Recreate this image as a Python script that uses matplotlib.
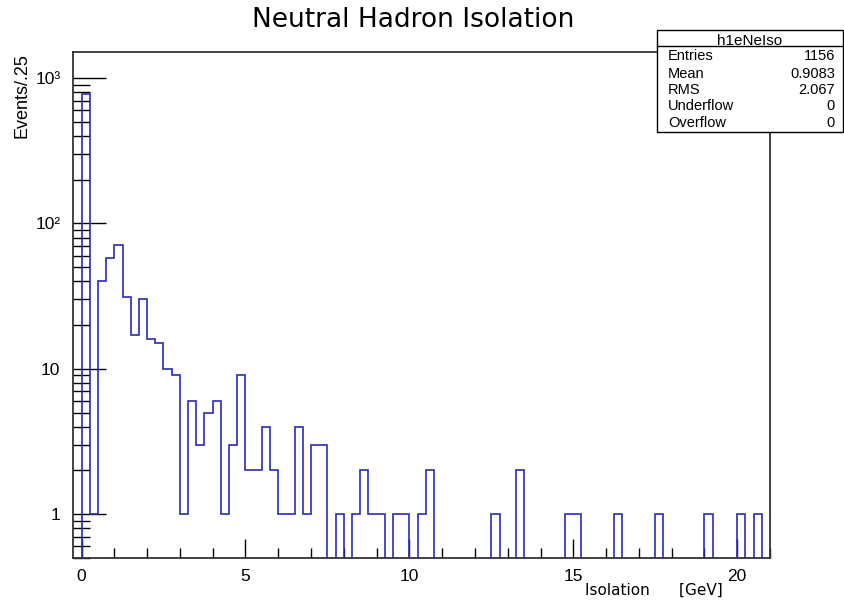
import numpy as np
import matplotlib
matplotlib.use('Agg')
from matplotlib import pyplot as plt
from matplotlib.patches import Rectangle
from matplotlib.lines import Line2D
from matplotlib.ticker import MultipleLocator, LogLocator, NullFormatter

# neutral hadron isolation, 0.25 GeV bins from 0 to 21 GeV
bin_width = 0.25
counts = [
    780, 1, 40, 58, 71, 31, 17, 30, 16, 15, 10, 9,       # 0.00 - 2.75
    1, 6, 3, 5, 6, 1, 3, 9, 2, 2, 4, 2,                  # 3.00 - 5.75
    1, 1, 4, 1, 3, 3, 0, 1, 0, 1, 2, 1,                  # 6.00 - 8.75
    1, 0, 1, 1, 0, 1, 2, 0, 0, 0, 0, 0,                  # 9.00 - 11.75
    0, 0, 1, 0, 0, 2, 0, 0, 0, 0, 0, 1,                  # 12.00 - 14.75
    1, 0, 0, 0, 0, 1, 0, 0, 0, 0, 1, 0,                  # 15.00 - 17.75
    0, 0, 0, 0, 1, 0, 0, 0, 1, 0, 1, 0,                  # 18.00 - 20.75
]
hist_name = 'h1eNeIso'
mean_text = '0.9083'
rms_text = '2.067'
underflow = 0
overflow = 0

counts = np.array(counts)
edges = np.arange(len(counts) + 1) * bin_width

W, H = 844, 604
fig = plt.figure(figsize=(W / 100, H / 100), dpi=100)
fig.patch.set_facecolor('white')

# frame in pixels: left 73, right 770, top 52, bottom 558
ax = fig.add_axes([73 / W, 1 - 558 / H, (770 - 73) / W, (558 - 52) / H])

# empty bins sit under the frame bottom, like ROOT draws them on a log axis
floor = 0.3
ax.stairs(np.maximum(counts, floor), edges, baseline=floor,
          color='#2b2bb8', lw=1.2, zorder=3)

ax.set_yscale('log')
ax.set_ylim(0.5, 1510)
ax.set_xlim(-0.26, 21.0)

for s in ['left', 'bottom', 'top', 'right']:
    ax.spines[s].set_color('#333333')
    ax.spines[s].set_linewidth(1.3)

ax.xaxis.set_major_locator(MultipleLocator(5))
ax.xaxis.set_minor_locator(MultipleLocator(1))
ax.set_yticks([1, 10, 100, 1000])
ax.set_yticklabels(['1', '10', '10²', '10³'])
ax.yaxis.set_minor_locator(LogLocator(base=10, subs=np.arange(2, 10)))
ax.yaxis.set_minor_formatter(NullFormatter())

ax.tick_params(axis='x', which='major', direction='in', length=14, width=1,
               color='black', pad=8, labelsize=12.5)
ax.tick_params(axis='x', which='minor', direction='in', length=7, width=1,
               color='black')
ax.tick_params(axis='y', which='major', direction='in', length=24, width=1,
               color='black', pad=9, labelsize=12.5)
ax.tick_params(axis='y', which='minor', direction='in', length=12, width=1,
               color='black')
for lab in ax.get_xticklabels() + ax.get_yticklabels():
    lab.set_family('Liberation Sans')

# titles
fig.text(413 / W, 1 - 27 / H, 'Neutral Hadron Isolation', ha='center',
         va='baseline', fontsize=19, family='DejaVu Sans')
fig.text(723 / W, 1 - 595 / H, 'Isolation      [GeV]', ha='right',
         va='baseline', fontsize=11, family='DejaVu Sans')
fig.text(22 / W, 1 - 53 / H, 'Events/.25', ha='center', va='top',
         rotation=90, fontsize=13, family='Liberation Sans')

# statistics box, runs out to the right edge of the canvas
bx0, bx1, by0, by1 = 657, 843, 30, 132
fig.add_artist(Rectangle((bx0 / W, 1 - by1 / H), (bx1 - bx0) / W, (by1 - by0) / H,
                         transform=fig.transFigure, fc='white', ec='black',
                         lw=1.0, zorder=5))
fig.add_artist(Line2D([bx0 / W, bx1 / W], [1 - 46 / H, 1 - 46 / H],
                      transform=fig.transFigure, color='black', lw=1.0, zorder=6))
fig.text((bx0 + bx1) / 2 / W, 1 - 45 / H, hist_name, ha='center', va='baseline',
         fontsize=11, family='Liberation Sans', zorder=7)

stats = [
    ('Entries', str(int(counts.sum()))),
    ('Mean', mean_text),
    ('RMS', rms_text),
    ('Underflow', str(underflow)),
    ('Overflow', str(overflow)),
]
row_y = [60, 77.5, 94, 110.5, 127]
for (name, val), y in zip(stats, row_y):
    fig.text(668 / W, 1 - y / H, name, ha='left', va='baseline',
             fontsize=10.5, family='Liberation Sans', zorder=7)
    fig.text(835 / W, 1 - y / H, val, ha='right', va='baseline',
             fontsize=10.5, family='Liberation Sans', zorder=7)

fig.savefig('out.png', dpi=100)
